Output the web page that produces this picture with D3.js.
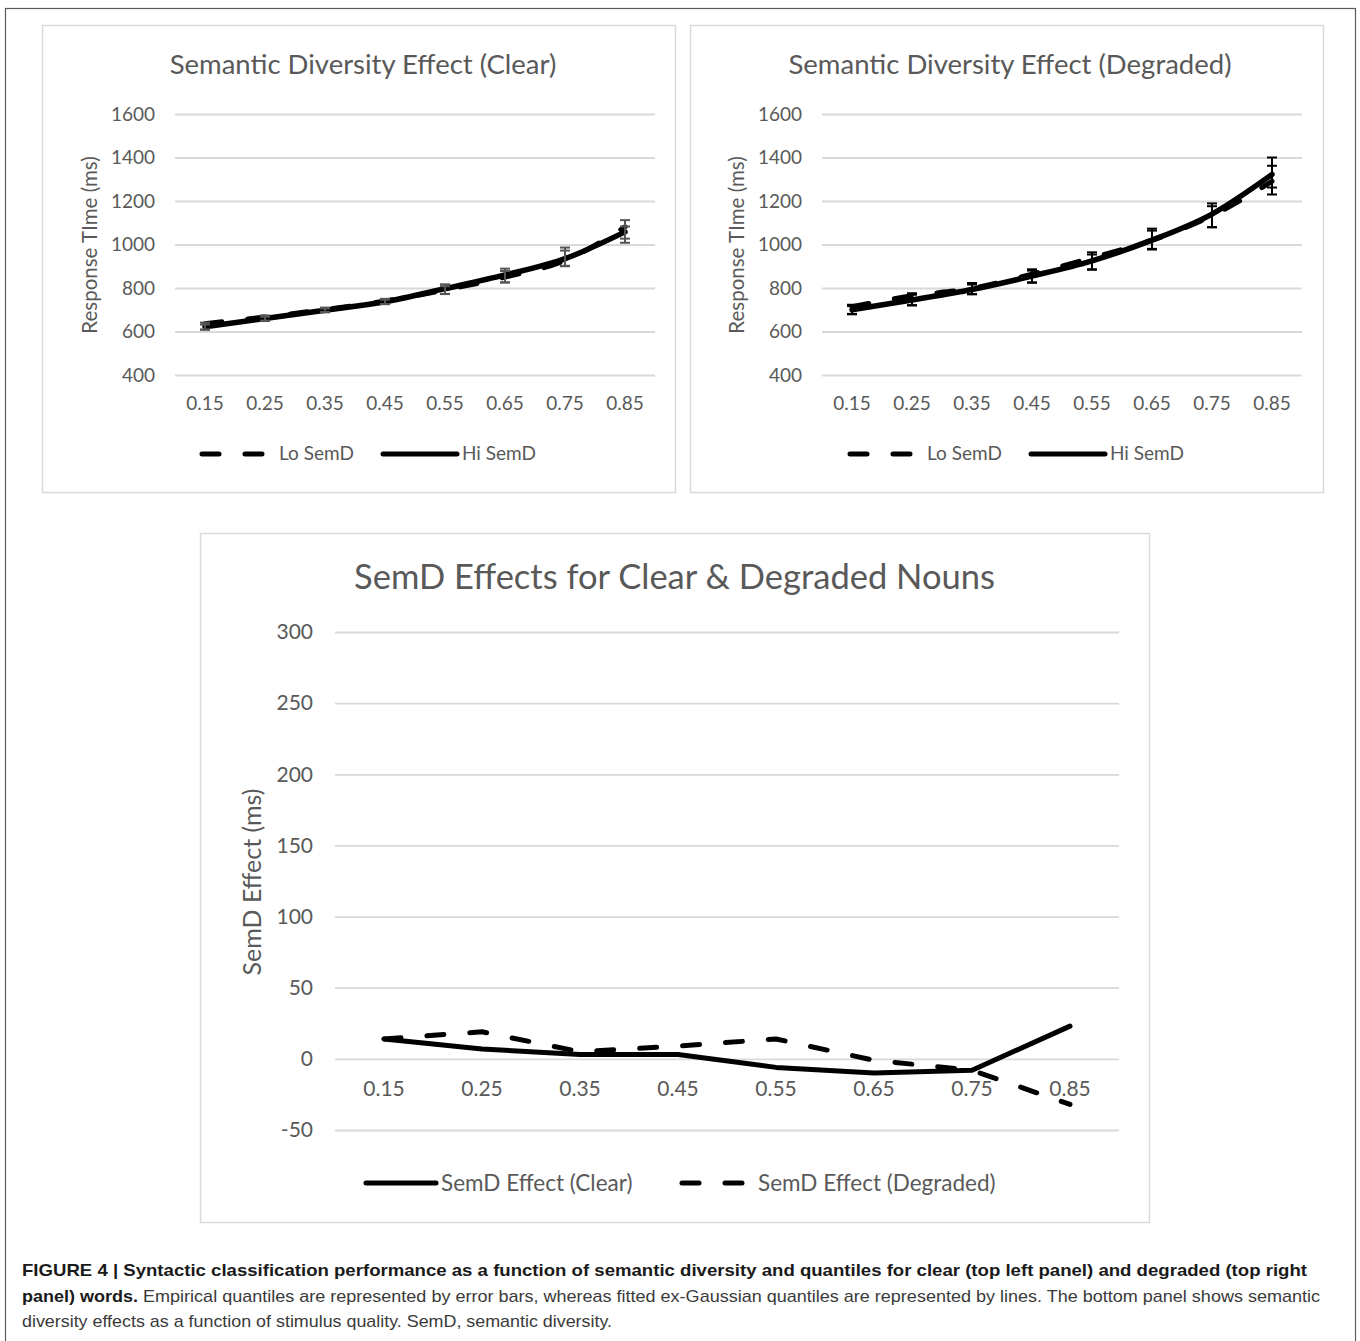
<!DOCTYPE html>
<html>
<head>
<meta charset="utf-8">
<script src="https://cdn.jsdelivr.net/npm/d3@7"></script>
<style>
  body { margin: 0; background: #fff; }
  svg { display: block; }
</style>
</head>
<body>
<script>
// Quantile categories
const quantiles = ["0.15", "0.25", "0.35", "0.45", "0.55", "0.65", "0.75", "0.85"];

// Fitted ex-Gaussian quantiles (lines), ms
const clearLo = [636, 667, 701, 740, 791, 850, 927, 1081];
const clearHi = [622, 660, 698, 737, 797, 860, 935, 1058];
const degradedLo = [714, 764, 798, 864, 939, 1020, 1132, 1290];
const degradedHi = [700, 745, 793, 855, 925, 1020, 1140, 1322];

// Empirical quantiles (error bars): means and half widths, ms
const clearEmpLo = [625, 662, 700, 738, 795, 857, 944, 1060];
const clearEmpHi = [620, 658, 697, 736, 790, 852, 936, 1055];
const clearErrLo = [16, 12, 10, 12, 22, 32, 42, 52];
const clearErrHi = [12, 10, 9, 10, 18, 26, 36, 28];
const degradedEmpLo = [701, 748, 797, 856, 924, 1025, 1134, 1315];
const degradedEmpHi = [699, 745, 794, 852, 920, 1022, 1128, 1312];
const degradedErrLo = [22, 28, 26, 30, 40, 48, 55, 85];
const degradedErrHi = [18, 24, 22, 28, 34, 42, 48, 50];

// SemD effects (bottom panel), ms
const effectClear = [14, 7, 3, 3, -6, -10, -8, 23];
const effectDegraded = [14, 19, 5, 9, 14, -1, -8, -32];

// Axis ticks
const rtTicks = [400, 600, 800, 1000, 1200, 1400, 1600];
const effectTicks = [-50, 0, 50, 100, 150, 200, 250, 300];

const W = 1360, H = 1341;
const font = "Lato, 'Open Sans', sans-serif";
const textGray = "#595959";
const gridGray = "#d9d9d9";
const plain = d => String(d);

const svg = d3.select("body").append("svg")
    .attr("width", W)
    .attr("height", H)
    .style("font-family", font);

// Outer figure frame
svg.append("rect")
    .attr("x", 5.5).attr("y", 8.5)
    .attr("width", 1350).attr("height", 1345)
    .attr("fill", "none").attr("stroke", "#5a5a5a").attr("stroke-width", 1.2);

const dashPattern = "17 26";

// Top panel: response time by quantile
function rtPanel(opt) {
    // Panel border
    svg.append("rect")
        .attr("x", opt.box[0] + 0.5).attr("y", opt.box[1] + 0.5)
        .attr("width", opt.box[2]).attr("height", opt.box[3])
        .attr("fill", "#fff").attr("stroke", gridGray).attr("stroke-width", 1.5);

    const x = d3.scaleBand().domain(quantiles).range([opt.x0, opt.x0 + 480]);
    const y = d3.scaleLinear().domain([400, 1600]).range([375, 114]);
    const cx = d => x(d) + x.bandwidth() / 2;

    // Gridlines + y labels
    const yAxis = svg.append("g")
        .attr("transform", `translate(${opt.x0},0)`)
        .call(d3.axisLeft(y).tickValues(rtTicks).tickFormat(plain).tickSize(-480).tickPadding(20));
    yAxis.select(".domain").remove();
    yAxis.selectAll(".tick line").attr("stroke", gridGray).attr("stroke-width", 1.8);
    yAxis.selectAll(".tick text")
        .attr("fill", textGray).style("font-size", "19px").style("font-family", font);

    // X labels
    const xAxis = svg.append("g")
        .attr("transform", `translate(0,375)`)
        .call(d3.axisBottom(x).tickSize(0).tickPadding(22));
    xAxis.select(".domain").remove();
    xAxis.selectAll(".tick text")
        .attr("fill", textGray).style("font-size", "19px").style("font-family", font);

    // Title
    svg.append("text")
        .attr("x", opt.titleX).attr("y", 74)
        .attr("text-anchor", "middle")
        .attr("fill", textGray).style("font-size", "27.5px")
        .text(opt.title);

    // Axis title
    svg.append("text")
        .attr("transform", `translate(${opt.x0 - 78},245) rotate(-90)`)
        .attr("text-anchor", "middle")
        .attr("fill", textGray).style("font-size", "20.5px")
        .text("Response TIme (ms)");

    const line = d3.line()
        .x((d, i) => cx(quantiles[i]))
        .y(d => y(d))
        .curve(d3.curveMonotoneX);

    // Fitted lines
    svg.append("path")
        .attr("d", line(opt.lo))
        .attr("fill", "none").attr("stroke", "#000").attr("stroke-width", 5)
        .attr("stroke-linecap", "round").attr("stroke-dasharray", dashPattern);
    svg.append("path")
        .attr("d", line(opt.hi))
        .attr("fill", "none").attr("stroke", "#000").attr("stroke-width", 5.5)
        .attr("stroke-linecap", "round");

    // Error bars
    [[opt.empLo, opt.errLo], [opt.empHi, opt.errHi]].forEach(([m, e]) => {
        const g = svg.append("g").selectAll("g")
            .data(quantiles.map((q, i) => ({ q: q, m: m[i], e: e[i] })))
            .join("g")
            .attr("stroke", opt.errColor).attr("stroke-width", 2);
        g.append("line")
            .attr("x1", d => cx(d.q)).attr("x2", d => cx(d.q))
            .attr("y1", d => y(d.m + d.e)).attr("y2", d => y(d.m - d.e));
        g.append("line")
            .attr("x1", d => cx(d.q) - 5).attr("x2", d => cx(d.q) + 5)
            .attr("y1", d => y(d.m + d.e)).attr("y2", d => y(d.m + d.e));
        g.append("line")
            .attr("x1", d => cx(d.q) - 5).attr("x2", d => cx(d.q) + 5)
            .attr("y1", d => y(d.m - d.e)).attr("y2", d => y(d.m - d.e));
    });

    // Legend
    const lx = opt.box[0] + 158;
    svg.append("line")
        .attr("x1", lx + 2).attr("x2", lx + 68).attr("y1", 454).attr("y2", 454)
        .attr("stroke", "#000").attr("stroke-width", 5)
        .attr("stroke-linecap", "round").attr("stroke-dasharray", dashPattern);
    svg.append("text")
        .attr("x", lx + 79).attr("y", 460)
        .attr("fill", textGray).style("font-size", "19px")
        .text("Lo SemD");
    svg.append("line")
        .attr("x1", lx + 183).attr("x2", lx + 257).attr("y1", 454).attr("y2", 454)
        .attr("stroke", "#000").attr("stroke-width", 5).attr("stroke-linecap", "round");
    svg.append("text")
        .attr("x", lx + 262).attr("y", 460)
        .attr("fill", textGray).style("font-size", "19px")
        .text("Hi SemD");
}

rtPanel({
    box: [42, 25, 633, 467], x0: 175, titleX: 363,
    title: "Semantic Diversity Effect (Clear)",
    lo: clearLo, hi: clearHi,
    empLo: clearEmpLo, empHi: clearEmpHi, errLo: clearErrLo, errHi: clearErrHi,
    errColor: "#555"
});
rtPanel({
    box: [690, 25, 633, 467], x0: 822, titleX: 1010,
    title: "Semantic Diversity Effect (Degraded)",
    lo: degradedLo, hi: degradedHi,
    empLo: degradedEmpLo, empHi: degradedEmpHi, errLo: degradedErrLo, errHi: degradedErrHi,
    errColor: "#000"
});

// ===== Bottom panel: SemD effects =====
svg.append("rect")
    .attr("x", 200.5).attr("y", 533.5).attr("width", 949).attr("height", 689)
    .attr("fill", "#fff").attr("stroke", gridGray).attr("stroke-width", 1.5);

const bx = d3.scaleBand().domain(quantiles).range([335, 1119]);
const by = d3.scaleLinear().domain([-50, 300]).range([1130, 632]);
const bcx = d => bx(d) + bx.bandwidth() / 2;

const bYAxis = svg.append("g")
    .attr("transform", "translate(335,0)")
    .call(d3.axisLeft(by).tickValues(effectTicks).tickFormat(plain).tickSize(-784).tickPadding(22));
bYAxis.select(".domain").remove();
bYAxis.selectAll(".tick line").attr("stroke", gridGray).attr("stroke-width", 1.8);
bYAxis.selectAll(".tick text")
    .attr("fill", textGray).style("font-size", "21px").style("font-family", font);

const bXAxis = svg.append("g")
    .attr("transform", `translate(0,${by(0)})`)
    .call(d3.axisBottom(bx).tickSize(0).tickPadding(22));
bXAxis.select(".domain").remove();
bXAxis.selectAll(".tick text")
    .attr("fill", textGray).style("font-size", "21px").style("font-family", font);

svg.append("text")
    .attr("x", 674.5).attr("y", 589)
    .attr("text-anchor", "middle")
    .attr("fill", textGray).style("font-size", "34.5px")
    .text("SemD Effects for Clear & Degraded Nouns");

svg.append("text")
    .attr("transform", "translate(261,882) rotate(-90)")
    .attr("text-anchor", "middle")
    .attr("fill", textGray).style("font-size", "25px")
    .text("SemD Effect (ms)");

const bLine = d3.line()
    .x((d, i) => bcx(quantiles[i]))
    .y(d => by(d));

svg.append("path")
    .attr("d", bLine(effectClear))
    .attr("fill", "none").attr("stroke", "#000").attr("stroke-width", 5)
    .attr("stroke-linecap", "round").attr("stroke-linejoin", "round");
svg.append("path")
    .attr("d", bLine(effectDegraded))
    .attr("fill", "none").attr("stroke", "#000").attr("stroke-width", 5)
    .attr("stroke-linecap", "round").attr("stroke-linejoin", "round")
    .attr("stroke-dasharray", dashPattern);

// Bottom legend
svg.append("line")
    .attr("x1", 366).attr("x2", 436).attr("y1", 1183).attr("y2", 1183)
    .attr("stroke", "#000").attr("stroke-width", 5).attr("stroke-linecap", "round");
svg.append("text")
    .attr("x", 441).attr("y", 1191)
    .attr("fill", textGray).style("font-size", "22.5px")
    .text("SemD Effect (Clear)");
svg.append("line")
    .attr("x1", 682).attr("x2", 746).attr("y1", 1183).attr("y2", 1183)
    .attr("stroke", "#000").attr("stroke-width", 5)
    .attr("stroke-linecap", "round").attr("stroke-dasharray", dashPattern);
svg.append("text")
    .attr("x", 758).attr("y", 1191)
    .attr("fill", textGray).style("font-size", "22.5px")
    .text("SemD Effect (Degraded)");

// ===== Caption =====
const cap = svg.append("g")
    .style("font-family", "'Liberation Sans', Arial, sans-serif")
    .style("font-size", "17px");
cap.append("text")
    .attr("x", 22).attr("y", 1276)
    .attr("textLength", 1285).attr("lengthAdjust", "spacingAndGlyphs")
    .attr("fill", "#1a1a1a").style("font-weight", "bold")
    .text("FIGURE 4 | Syntactic classification performance as a function of semantic diversity and quantiles for clear (top left panel) and degraded (top right");
const l2 = cap.append("text")
    .attr("x", 22).attr("y", 1302)
    .attr("textLength", 1298).attr("lengthAdjust", "spacingAndGlyphs");
l2.append("tspan").attr("fill", "#1a1a1a").style("font-weight", "bold").text("panel) words.");
l2.append("tspan").attr("fill", "#3a3a3a")
    .text(" Empirical quantiles are represented by error bars, whereas fitted ex-Gaussian quantiles are represented by lines. The bottom panel shows semantic");
cap.append("text")
    .attr("x", 22).attr("y", 1327)
    .attr("textLength", 590).attr("lengthAdjust", "spacingAndGlyphs")
    .attr("fill", "#3a3a3a")
    .text("diversity effects as a function of stimulus quality. SemD, semantic diversity.");
</script>
</body>
</html>
